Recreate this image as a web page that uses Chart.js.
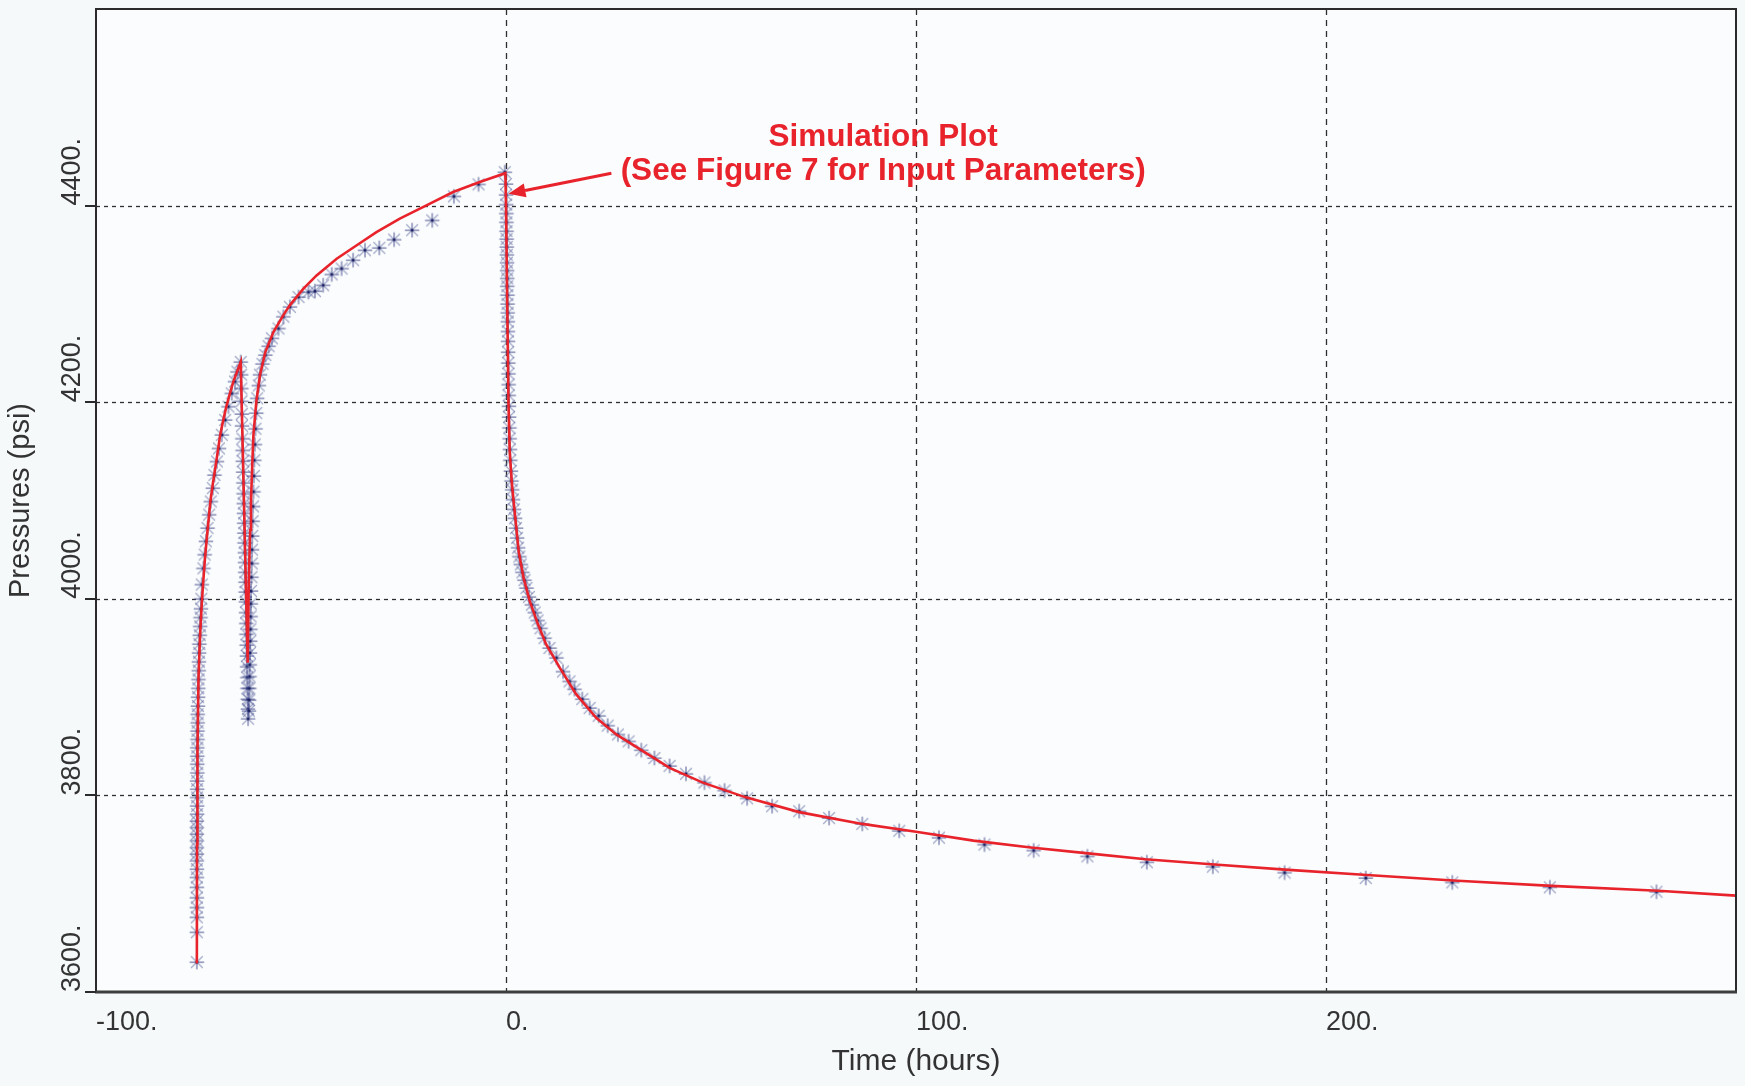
<!DOCTYPE html>
<html>
<head>
<meta charset="utf-8">
<title>Pressure history</title>
<script src="https://cdn.jsdelivr.net/npm/chart.js@4.4.1/dist/chart.umd.min.js"></script>
<style>
  html, body { margin: 0; padding: 0; background: #f6f9fa; }
  #wrap { width: 1745px; height: 1086px; position: relative; }
  canvas { display: block; }
</style>
</head>
<body>
<div id="wrap"><canvas id="chart" width="1745" height="1086"></canvas></div>
<script>
// ---- Axis ticks and grid ----
const xTickValues = [-100, 0, 100, 200];
const xTickLabels = ['-100.', '0.', '100.', '200.'];
const yTickValues = [3600, 3800, 4000, 4200, 4400];
const yTickLabels = ['3600.', '3800.', '4000.', '4200.', '4400.'];
const xGridValues = [0, 100, 200];
const yGridValues = [3800, 4000, 4200, 4400];

// ---- Measured gauge pressures [hours, psi] ----
const firstRise = [
  [-75.4,3630.4],[-75.4,3660.8],[-75.4,3676],[-75.4,3686],[-75.4,3696],[-75.4,3706.5],[-75.4,3716.6],
  [-75.4,3725],[-75.4,3733.6],[-75.4,3740.4],[-75.4,3747],[-75.4,3754],[-75.4,3760.7],[-75.4,3767.4],
  [-75.4,3774],[-75.35,3781],[-75.35,3789.4],[-75.35,3797.9],[-75.35,3806.4],[-75.35,3814.8],[-75.3,3823],
  [-75.3,3831.8],[-75.3,3840],[-75.3,3848.6],[-75.25,3857],[-75.25,3865.6],[-75.2,3874],[-75.2,3882.5],
  [-75.15,3891],[-75.1,3900],[-75.05,3909],[-75.0,3918],[-74.95,3927],[-74.9,3936],[-74.85,3945],
  [-74.8,3954],[-74.7,3963],[-74.6,3972],[-74.5,3981],[-74.4,3990],[-74.3,4000],[-74.2,4014.5],
  [-73.8,4031],[-73.5,4045],[-73.2,4058.5],[-72.8,4072],[-72.4,4085.6],[-72.0,4099],[-71.5,4112.6],
  [-71.1,4126],[-70.5,4139.7],[-70.0,4153],[-69.3,4166.8],[-68.5,4182],[-67.7,4195.5],[-66.9,4209],
  [-66.1,4221],[-65.5,4231],[-64.7,4241]
];
const secondDrop = [
  [-64.6,4228],[-64.55,4214],[-64.5,4201],[-64.45,4188],[-64.4,4176],[-64.3,4163],[-64.25,4151],
  [-64.2,4140],[-64.1,4129],[-64.05,4118],[-64.0,4107],[-63.95,4097],[-63.9,4087],[-63.85,4077],
  [-63.8,4067],[-63.75,4057],[-63.7,4047],[-63.65,4037],[-63.6,4027],[-63.55,4017],[-63.5,4007],
  [-63.45,3997],[-63.4,3986],[-63.35,3975],[-63.3,3964],[-63.25,3953],[-63.2,3942],[-63.15,3931],
  [-63.1,3920],[-63.05,3909],[-63.0,3898],[-62.95,3888],[-62.9,3878]
];
const secondRise = [
  [-62.7,3886],[-62.65,3897],[-62.6,3909],[-62.55,3921],[-62.5,3933],[-62.45,3945],[-62.4,3957],
  [-62.35,3969],[-62.3,3982],[-62.25,3995],[-62.2,4008],[-62.1,4022],[-62.0,4036],[-61.95,4050],
  [-61.9,4064],[-61.8,4079],[-61.7,4094],[-61.6,4109],[-61.5,4125],[-61.4,4141],[-61.25,4157],
  [-61.1,4173],[-60.9,4189],[-60.7,4204],[-60.3,4217],[-60.0,4228],[-59.4,4239],[-58.7,4248],
  [-57.9,4257],[-57.1,4265],[-55.5,4275],[-54.3,4287],[-52.7,4297],[-50.6,4307],[-48.2,4312],
  [-46.6,4313],[-44.6,4319],[-42.5,4330],[-40.1,4336],[-37.3,4344.5],[-34.4,4354.6],[-30.9,4357],
  [-27.3,4365.4],[-22.9,4375],[-18.0,4385],[-12.7,4409.4],[-6.7,4421.6],[-0.3,4434]
];
const finalDecline = [
  [0.0,4422],[0.03,4411],[0.06,4401],[0.08,4392],[0.1,4383],[0.13,4374],[0.15,4366],[0.18,4358],
  [0.2,4350],[0.23,4342],[0.26,4334],[0.29,4326],[0.32,4318],[0.35,4309],[0.38,4300],[0.41,4291],
  [0.44,4282],[0.47,4272],[0.5,4262],[0.53,4251],[0.56,4240],[0.6,4229],[0.63,4218],[0.67,4207],
  [0.71,4196],[0.76,4185],[0.82,4174],[0.88,4163],[0.95,4152],[1.05,4141],[1.18,4130],[1.33,4120],
  [1.5,4111],[1.7,4101],[1.95,4091],[2.2,4082],[2.45,4072],[2.7,4062],[2.95,4052],[3.25,4043],
  [3.6,4035],[4.0,4027],[4.5,4019],[5.0,4011],[5.6,4002],[6.3,3994],[7.0,3986],[7.7,3978],
  [8.4,3970],[9.4,3960],[10.6,3950],[12.3,3940],[13.9,3926],[15.5,3916],[16.7,3908],[18.6,3898],
  [20.4,3889],[22.6,3881],[24.8,3871],[27.3,3862],[29.9,3855],[33.0,3846],[36.2,3838],[39.9,3830],
  [43.9,3822],[48.4,3813],[53.3,3805],[58.8,3797],[64.9,3789],[71.5,3784],[78.8,3777],[86.9,3771],
  [95.9,3764],[105.6,3757],[116.7,3750],[128.7,3744],[141.8,3738],[156.3,3732],[172.4,3727.5],
  [189.9,3721.5],[209.7,3716],[230.8,3711.5],[254.6,3706.5],[280.6,3702]
];

// ---- Simulated pressure response [hours, psi] ----
const simulatedCurve = [
  [-75.4,3629],[-75.35,3750],[-75.25,3845],[-75.0,3920],[-74.6,3964],[-74.2,3995],[-73.9,4014],
  [-73.4,4042],[-72.9,4065],[-72.1,4099],[-71.5,4117],[-70.9,4133],[-70.3,4150],[-69.7,4167],
  [-69.0,4181],[-68.3,4194],[-67.4,4208],[-66.5,4221],[-65.6,4231],[-64.7,4241],[-63.0,3935],
  [-62.8,4000],[-62.65,4031],[-62.4,4070],[-62.2,4099],[-61.9,4135],[-61.6,4167],[-60.9,4200.6],
  [-60.0,4227.7],[-58.7,4251],[-56.7,4271.7],[-54.3,4288.6],[-52.7,4298.8],[-49.4,4315.6],
  [-46.2,4329],[-41.3,4346],[-36.4,4359.7],[-31.6,4373],[-25.9,4386.7],[-19.4,4400.3],
  [-12.9,4413.8],[-6.4,4424],[-0.15,4433],[0.0,4400],[0.3,4300],[0.6,4200],[0.9,4150],
  [1.46,4116],[2.28,4082],[3.1,4048],[4.3,4021],[5.8,3997.6],[7.8,3974],[9.8,3953.6],[13.1,3930],
  [17.1,3903],[22.0,3879],[26.9,3862],[33.4,3845],[39.9,3828],[48.0,3813],[58.5,3798],[71.5,3783],
  [86.9,3771],[100,3763],[114,3754],[128,3747],[142,3741],[156,3735],[172,3730],[190,3724.5],
  [210,3719],[231,3713.5],[255,3708],[281,3703],[300,3698]
];

const FONT = "'Liberation Sans', Arial, Helvetica, sans-serif";
const TEXT_COLOR = '#333333';
const RED = '#e8232b';

const toXY = pts => pts.map(([x, y]) => ({ x, y }));
const measured = [...firstRise, ...secondDrop, ...secondRise, ...finalDecline];

// Asterisk marker: blue-grey arms with a dark navy centre
function makeAsterisk() {
  const c = document.createElement('canvas');
  c.width = 18; c.height = 18;
  const g = c.getContext('2d');
  g.translate(9, 9);
  g.lineWidth = 1.25;
  g.lineCap = 'round';
  const r = 7.8;
  // diagonal arms, paler
  g.strokeStyle = 'rgba(110,118,170,0.62)';
  g.beginPath();
  [Math.PI / 4, 3 * Math.PI / 4].forEach(a => {
    g.moveTo(-r * Math.cos(a), -r * Math.sin(a));
    g.lineTo(r * Math.cos(a), r * Math.sin(a));
  });
  g.stroke();
  // upright arms, a little darker
  g.strokeStyle = 'rgba(60,68,135,0.72)';
  g.beginPath();
  g.moveTo(-r + 1, 0); g.lineTo(r - 1, 0);
  g.moveTo(0, -r + 1); g.lineTo(0, r - 1);
  g.stroke();
  g.fillStyle = 'rgba(20,25,90,0.9)';
  g.beginPath();
  g.arc(0, 0, 1.5, 0, Math.PI * 2);
  g.fill();
  return c;
}

// Page and plot backgrounds
const backgroundPlugin = {
  id: 'backgrounds',
  beforeDraw(chart) {
    const { ctx, chartArea: a } = chart;
    ctx.save();
    ctx.fillStyle = '#f6f9fa';
    ctx.fillRect(0, 0, chart.width, chart.height);
    ctx.fillStyle = '#fafcfd';
    ctx.fillRect(a.left, a.top, a.right - a.left, a.bottom - a.top);
    ctx.restore();
  }
};

// Dashed grid, frame, left tick marks and rotated y labels
const gridFramePlugin = {
  id: 'gridFrame',
  beforeDatasetsDraw(chart) {
    const { ctx, chartArea: a, scales: { x, y } } = chart;
    ctx.save();
    ctx.strokeStyle = '#2e2e2e';
    ctx.lineWidth = 1.3;
    ctx.setLineDash([6, 5]);
    xGridValues.forEach(v => {
      const px = Math.round(x.getPixelForValue(v)) + 0.5;
      ctx.beginPath(); ctx.moveTo(px, a.top); ctx.lineTo(px, a.bottom); ctx.stroke();
    });
    ctx.setLineDash([4, 4]);
    yGridValues.forEach(v => {
      const py = Math.round(y.getPixelForValue(v)) + 0.5;
      ctx.beginPath(); ctx.moveTo(a.left, py); ctx.lineTo(a.right, py); ctx.stroke();
    });
    ctx.restore();
  },
  afterDatasetsDraw(chart) {
    const { ctx, chartArea: a, scales: { y } } = chart;
    ctx.save();
    ctx.setLineDash([]);
    ctx.strokeStyle = '#2b2b2b';
    ctx.lineWidth = 2;
    ctx.beginPath();
    ctx.moveTo(a.left, a.bottom); ctx.lineTo(a.left, a.top);
    ctx.lineTo(a.right, a.top); ctx.lineTo(a.right, a.bottom);
    ctx.stroke();
    ctx.strokeStyle = '#3d3d3d';
    ctx.lineWidth = 3;
    ctx.beginPath(); ctx.moveTo(a.left - 1, a.bottom); ctx.lineTo(a.right + 1, a.bottom); ctx.stroke();
    // outward ticks on the pressure axis
    ctx.lineWidth = 2;
    ctx.strokeStyle = '#2b2b2b';
    yTickValues.forEach(v => {
      const py = Math.round(y.getPixelForValue(v));
      ctx.beginPath(); ctx.moveTo(a.left - 11, py); ctx.lineTo(a.left, py); ctx.stroke();
    });
    // rotated pressure labels, starting at each tick and reading upward
    ctx.fillStyle = TEXT_COLOR;
    ctx.font = `27px ${FONT}`;
    ctx.textAlign = 'left';
    ctx.textBaseline = 'alphabetic';
    yTickValues.forEach((v, i) => {
      const py = y.getPixelForValue(v);
      ctx.save();
      ctx.translate(a.left - 16, py);
      ctx.rotate(-Math.PI / 2);
      ctx.fillText(yTickLabels[i], 0, 0);
      ctx.restore();
    });
    ctx.restore();
  }
};

// Callout pointing at the end of the second build-up
const calloutPlugin = {
  id: 'callout',
  afterDraw(chart) {
    const { ctx, scales: { x, y } } = chart;
    ctx.save();
    ctx.fillStyle = RED;
    ctx.font = `bold 31.5px ${FONT}`;
    ctx.textAlign = 'center';
    ctx.textBaseline = 'alphabetic';
    const cx = x.getPixelForValue(92);
    ctx.fillText('Simulation Plot', cx, y.getPixelForValue(4461));
    ctx.fillText('(See Figure 7 for Input Parameters)', cx, y.getPixelForValue(4425.7));

    const x0 = x.getPixelForValue(25.7), y0 = y.getPixelForValue(4433);
    const x1 = x.getPixelForValue(0.6), y1 = y.getPixelForValue(4412);
    const ang = Math.atan2(y1 - y0, x1 - x0);
    const headLen = 17, headHalf = 7;
    const bx = x1 - headLen * Math.cos(ang), by = y1 - headLen * Math.sin(ang);
    ctx.strokeStyle = RED;
    ctx.lineWidth = 3;
    ctx.beginPath(); ctx.moveTo(x0, y0); ctx.lineTo(bx, by); ctx.stroke();
    ctx.beginPath();
    ctx.moveTo(x1, y1);
    ctx.lineTo(bx + headHalf * Math.sin(ang), by - headHalf * Math.cos(ang));
    ctx.lineTo(bx - headHalf * Math.sin(ang), by + headHalf * Math.cos(ang));
    ctx.closePath();
    ctx.fill();
    ctx.restore();
  }
};

new Chart(document.getElementById('chart'), {
  type: 'scatter',
  data: {
    datasets: [
      {
        label: 'Simulated',
        type: 'line',
        data: toXY(simulatedCurve),
        borderColor: RED,
        borderWidth: 2.6,
        pointRadius: 0,
        tension: 0,
        fill: false
      },
      {
        label: 'Measured',
        data: toXY(measured),
        pointStyle: makeAsterisk(),
        pointRadius: 8
      }
    ]
  },
  options: {
    responsive: false,
    animation: false,
    devicePixelRatio: 1,
    layout: { padding: { top: 6, right: 7, bottom: 0, left: 0 } },
    plugins: { legend: { display: false }, tooltip: { enabled: false } },
    scales: {
      x: {
        type: 'linear',
        min: -100,
        max: 300,
        afterBuildTicks: s => { s.ticks = xTickValues.map(v => ({ value: v })); },
        afterFit: s => { s.height = 94; },
        grid: { display: false, drawTicks: false },
        border: { display: false },
        ticks: {
          align: 'start',
          padding: 14,
          maxRotation: 0,
          autoSkip: false,
          color: TEXT_COLOR,
          font: { size: 27, family: FONT },
          callback: v => xTickLabels[xTickValues.indexOf(v)]
        },
        title: {
          display: true,
          text: 'Time (hours)',
          color: TEXT_COLOR,
          font: { size: 30, family: FONT },
          padding: { top: 0, bottom: 6 }
        }
      },
      y: {
        type: 'linear',
        min: 3600,
        max: 4600,
        afterBuildTicks: s => { s.ticks = yTickValues.map(v => ({ value: v })); },
        afterFit: s => { s.width = 96; },
        grid: { display: false, drawTicks: false },
        border: { display: false },
        ticks: { display: false },
        title: {
          display: true,
          text: 'Pressures (psi)',
          color: TEXT_COLOR,
          font: { size: 29, family: FONT },
          padding: { top: 4, bottom: 0 }
        }
      }
    }
  },
  plugins: [backgroundPlugin, gridFramePlugin, calloutPlugin]
});
</script>
</body>
</html>
